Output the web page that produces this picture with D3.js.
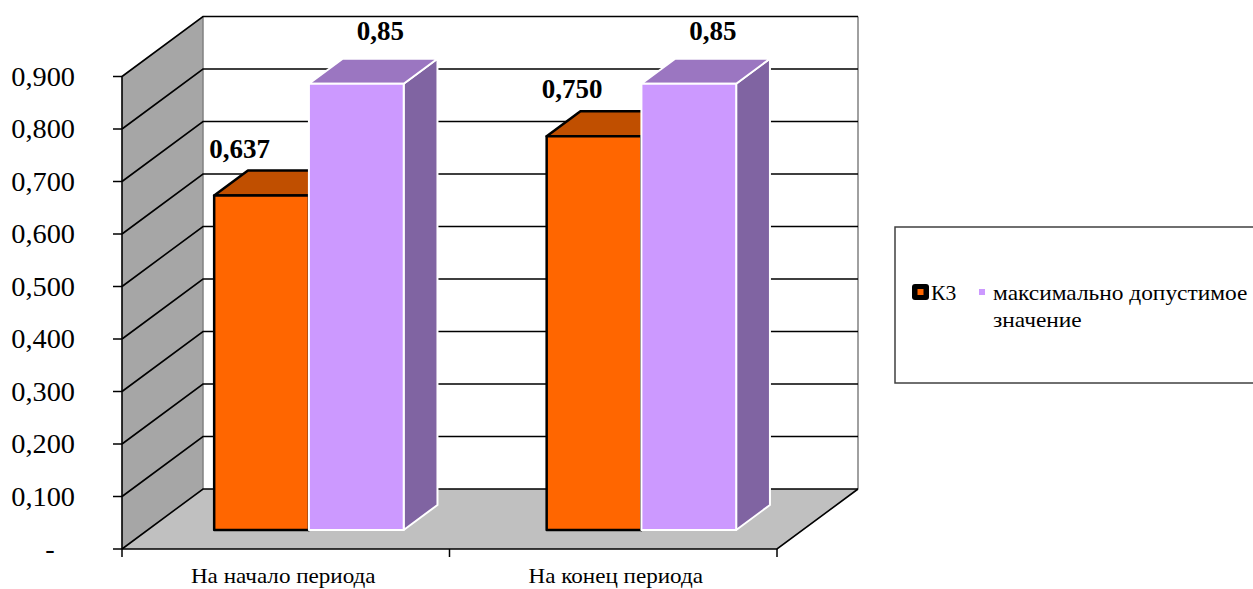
<!DOCTYPE html>
<html lang="ru">
<head>
<meta charset="utf-8">
<title>К3</title>
<script src="https://cdnjs.cloudflare.com/ajax/libs/d3/7.8.5/d3.min.js"></script>
<style>
  body { margin: 0; background: #fff; }
  text { font-family: 'Liberation Serif', 'Times New Roman', serif; }
</style>
</head>
<body>
<svg id="canvas" width="1253" height="589"></svg>
<script>
// data
const categories = ["На начало периода", "На конец периода"];
const seriesNames = ["К3", "максимально допустимое значение"];
const k3Values = [0.637, 0.750];
const maxValues = [0.85, 0.85];
const k3Labels = ["0,637", "0,750"];
const maxLabels = ["0,85", "0,85"];
const yTicks = [0, 0.1, 0.2, 0.3, 0.4, 0.5, 0.6, 0.7, 0.8, 0.9];
const yTickLabels = ["-", "0,100", "0,200", "0,300", "0,400", "0,500", "0,600", "0,700", "0,800", "0,900"];

const svg = d3.select("#canvas");

// the original text looks a bit wider than Times, stretch it horizontally
function stretched(sel, x, y, sx) {
  return sel.attr("transform", `translate(${x},${y}) scale(${sx},1)`);
}

// 3d projection: depth 0 = front edge, 1 = back wall
const DX = 81, DY = -60;
const d0 = 0.317, d1 = 0.734; // bar front / back depth

const y = d3.scaleLinear().domain([0, 0.9]).range([549, 76.5]);
const x0 = d3.scaleBand().domain(categories).range([122, 777])
  .paddingInner(0.43).paddingOuter(0.2);
const x1 = d3.scaleBand().domain([0, 1]).range([0, x0.bandwidth()]);

function p(x, v, d) { return [x + DX * d, y(v) + DY * d]; }
function poly(pts) { return pts.map(q => q.join(",")).join(" "); }

const xL = x0.range()[0], xR = x0.range()[1];

// side wall
svg.append("polygon")
  .attr("points", poly([p(xL, 0, 0), p(xL, 0.9, 0), p(xL, 0.9, 1), p(xL, 0, 1)]))
  .attr("fill", "#a6a6a6").attr("stroke", "none");
// floor
svg.append("polygon")
  .attr("points", poly([p(xL, 0, 0), p(xR, 0, 0), p(xR, 0, 1), p(xL, 0, 1)]))
  .attr("fill", "#c0c0c0").attr("stroke", "none");

// back wall edges
svg.append("line")
  .attr("x1", p(xL, 0, 1)[0]).attr("y1", p(xL, 0, 1)[1])
  .attr("x2", p(xL, 0.9, 1)[0]).attr("y2", p(xL, 0.9, 1)[1])
  .attr("stroke", "#808080").attr("stroke-width", 1.5);
svg.append("line")
  .attr("x1", p(xR, 0, 1)[0]).attr("y1", p(xR, 0, 1)[1])
  .attr("x2", p(xR, 0.9, 1)[0]).attr("y2", p(xR, 0.9, 1)[1])
  .attr("stroke", "#808080").attr("stroke-width", 1.5);

// gridlines on side wall and back wall
const grid = svg.append("g").attr("stroke", "#000").attr("stroke-width", 1.6).attr("fill", "none");
yTicks.forEach(v => {
  grid.append("polyline")
    .attr("points", poly([p(xL, v, 0), p(xL, v, 1), p(xR, v, 1)]));
});
// floor outline
grid.append("polyline")
  .attr("points", poly([p(xR, 0, 1), p(xR, 0, 0), p(xL, 0, 0)]));
grid.append("line")
  .attr("x1", xL).attr("y1", y(0)).attr("x2", xL).attr("y2", y(0.9))
  .attr("stroke-width", 1.6);

// y axis ticks and labels
const yAxis = svg.append("g");
yTicks.forEach((v, i) => {
  yAxis.append("line").attr("x1", xL - 9).attr("x2", xL).attr("y1", y(v)).attr("y2", y(v))
    .attr("stroke", "#000").attr("stroke-width", 1.5);
  stretched(yAxis.append("text"), i === 0 ? 50 : 75, y(v), 1.05)
    .attr("dy", "0.35em")
    .attr("text-anchor", i === 0 ? "middle" : "end")
    .attr("font-size", 27).text(yTickLabels[i]);
});

// category ticks and labels
const bounds = [xL, (x0(categories[0]) + x0.bandwidth() + x0(categories[1])) / 2, xR];
bounds.forEach(bx => {
  svg.append("line").attr("x1", bx).attr("x2", bx).attr("y1", y(0)).attr("y2", y(0) + 8)
    .attr("stroke", "#000").attr("stroke-width", 1.5);
});
categories.forEach(c => {
  stretched(svg.append("text"), x0(c) + x0.bandwidth() / 2, 583, 1.1)
    .attr("text-anchor", "middle").attr("font-size", 21).text(c);
});

// bars
const series = [
  { values: k3Values, labels: k3Labels, front: "#ff6600", top: "#c04f00", side: "#c04f00", stroke: "#000", sw: 2.5, dx: -22 },
  { values: maxValues, labels: maxLabels, front: "#cc99ff", top: "#9b76c1", side: "#8064a2", stroke: "#fff", sw: 2, dx: 24 }
];

categories.forEach((c, ci) => {
  series.forEach((s, si) => {
    const a = x0(c) + x1(si), b = a + x1.bandwidth();
    const v = s.values[ci];
    const g = svg.append("g").attr("stroke", s.stroke).attr("stroke-width", s.sw)
      .attr("stroke-linejoin", "round");
    g.append("polygon")
      .attr("points", poly([p(b, 0, d0), p(b, v, d0), p(b, v, d1), p(b, 0, d1)]))
      .attr("fill", s.side);
    g.append("polygon")
      .attr("points", poly([p(a, v, d0), p(b, v, d0), p(b, v, d1), p(a, v, d1)]))
      .attr("fill", s.top);
    g.append("polygon")
      .attr("points", poly([p(a, 0, d0), p(b, 0, d0), p(b, v, d0), p(a, v, d0)]))
      .attr("fill", s.front);
  });
});

// value labels
categories.forEach((c, ci) => {
  series.forEach((s, si) => {
    const a = x0(c) + x1(si);
    const cx = p(a + x1.bandwidth() / 2, s.values[ci], d0)[0] + s.dx;
    const ty = p(a, s.values[ci], d1)[1] - (si === 0 ? 13 : 19);
    svg.append("text")
      .attr("x", cx).attr("y", ty).attr("text-anchor", "middle")
      .attr("font-size", 27).attr("font-weight", "bold").text(s.labels[ci]);
  });
});

// legend
const lg = svg.append("g");
lg.append("rect").attr("x", 895).attr("y", 227).attr("width", 420).attr("height", 156)
  .attr("fill", "#fff").attr("stroke", "#404040").attr("stroke-width", 1.5);
lg.append("rect").attr("x", 912).attr("y", 284).attr("width", 17).attr("height", 16).attr("rx", 3)
  .attr("fill", "#000");
lg.append("rect").attr("x", 917.5).attr("y", 289).attr("width", 6).attr("height", 6)
  .attr("fill", series[0].front);
stretched(lg.append("text"), 931, 300, 1.08).attr("font-size", 20).text(seriesNames[0]);
lg.append("rect").attr("x", 979).attr("y", 289).attr("width", 6).attr("height", 6)
  .attr("fill", series[1].front);
const words = seriesNames[1].split(" ");
stretched(lg.append("text"), 993, 300, 1.17).attr("font-size", 20).text(words.slice(0, 2).join(" "));
stretched(lg.append("text"), 993, 327, 1.17).attr("font-size", 20).text(words.slice(2).join(" "));
</script>
</body>
</html>
